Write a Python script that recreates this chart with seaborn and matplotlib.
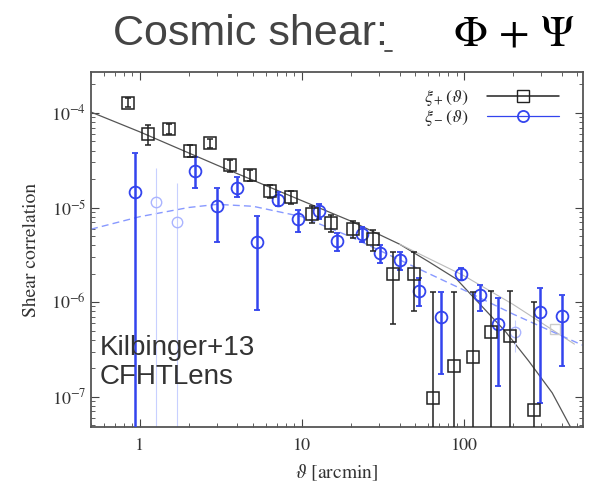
import numpy as np
import pandas as pd
import seaborn as sns
import matplotlib.pyplot as plt
from matplotlib.lines import Line2D
from matplotlib.ticker import FuncFormatter, LogLocator, NullFormatter

xp_theta = [0.84, 1.12, 1.51, 2.04, 2.70, 3.6, 4.8, 6.4, 8.6, 11.5, 15.1, 20.6, 27.4,
            36.5, 49, 64.4, 86.7, 114, 147, 192, 269]
xp_val = [1.27e-4, 6.0e-5, 6.8e-5, 4.0e-5, 4.8e-5, 2.8e-5, 2.2e-5, 1.5e-5, 1.3e-5, 8.6e-6,
          6.9e-6, 6.0e-6, 4.6e-6, 2.0e-6, 2.0e-6, 9.8e-8, 2.1e-7, 2.6e-7, 4.8e-7, 4.4e-7, 7.3e-8]
xp_lo = [1.15e-4, 4.6e-5, 6.0e-5, 3.4e-5, 4.3e-5, 2.4e-5, 1.9e-5, 1.25e-5, 1.1e-5, 6.8e-6,
         5.5e-6, 4.8e-6, 3.5e-6, 5.9e-7, 8.0e-7, 1e-9, 1e-9, 1e-9, 1e-9, 1e-9, 1e-9]
xp_hi = [1.42e-4, 7.5e-5, 7.6e-5, 4.6e-5, 5.3e-5, 3.2e-5, 2.5e-5, 1.75e-5, 1.5e-5, 1.05e-5,
         8.3e-6, 7.2e-6, 5.8e-6, 3.4e-6, 3.4e-6, 1.27e-6, 1.27e-6, 1.27e-6, 1.3e-6, 1.3e-6, 1.0e-6]

# xi_minus measurements
xm_theta = [0.94, 2.19, 2.99, 3.97, 5.27, 7.1, 9.4, 12.7, 16.4, 23.5, 30.3, 40, 52.7,
            72, 95.6, 126, 162, 295, 403]
xm_val = [1.47e-5, 2.46e-5, 1.03e-5, 1.62e-5, 4.3e-6, 1.21e-5, 7.5e-6, 9.1e-6, 4.4e-6,
          5.2e-6, 3.3e-6, 2.8e-6, 1.3e-6, 6.9e-7, 1.97e-6, 1.19e-6, 5.9e-7, 7.9e-7, 7.1e-7]
xm_lo = [1e-9, 1.6e-5, 4.3e-6, 1.3e-5, 8.3e-7, 1.05e-5, 5.5e-6, 7.5e-6, 3.5e-6,
         4.3e-6, 2.6e-6, 2.2e-6, 9e-7, 1.75e-7, 1.7e-6, 8e-7, 1.3e-7, 8.5e-8, 2.1e-7]
xm_hi = [3.8e-5, 3.4e-5, 1.6e-5, 2.1e-5, 8.1e-6, 1.45e-5, 9.5e-6, 1.1e-5, 5.4e-6,
         6.2e-6, 4.0e-6, 3.4e-6, 1.8e-6, 1.27e-6, 2.3e-6, 1.5e-6, 1.1e-6, 1.4e-6, 1.2e-6]

# faint (excluded) xi_minus / xi_plus points
xmf_theta = [1.26, 1.69, 206]
xmf_val = [1.13e-5, 7.1e-6, 4.8e-7]
xmf_lo = [1e-9, 1e-9, 3.0e-7]
xmf_hi = [2.6e-5, 1.8e-5, 6.5e-7]
xpf_theta = [365]
xpf_val = [5.2e-7]

# model curves
mp_theta = [0.5, 1, 3, 10, 20, 40, 60, 90, 130, 180, 250, 350, 430, 480]
mp_val = [1.02e-4, 6.3e-5, 2.8e-5, 1.18e-5, 7.2e-6, 4.1e-6, 2.7e-6, 1.75e-6, 8.9e-7,
          4.9e-7, 2.4e-7, 1.1e-7, 5.7e-8, 4.0e-8]
mm_theta = [0.5, 1, 2, 3, 5, 10, 20, 40, 100, 200, 540]
mm_val = [5.9e-6, 8.0e-6, 1.0e-5, 1.08e-5, 1.03e-5, 8.0e-6, 4.9e-6, 2.8e-6, 1.34e-6,
          7.5e-7, 3.5e-7]
mg_theta = [40, 100, 200, 480]
mg_val = [4.1e-6, 1.9e-6, 9.5e-7, 3.6e-7]

black = "#222222"
blue = "#3344ee"

sns.set_style("ticks")
plt.rcParams["mathtext.fontset"] = "stix"
serif = ["STIXGeneral", "Liberation Serif", "DejaVu Serif"]
sans = ["Liberation Sans", "DejaVu Sans"]

fig = plt.figure(figsize=(5.91, 4.97), dpi=100)
ax = fig.add_axes([0.154, 0.141, 0.832, 0.714])

# model lines
sns.lineplot(x=mp_theta, y=mp_val, ax=ax, color="#555555", lw=0.9, sort=False, estimator=None)
sns.lineplot(x=mg_theta, y=mg_val, ax=ax, color="#bbbbbb", lw=0.8, sort=False, estimator=None)
sns.lineplot(x=mm_theta, y=mm_val, ax=ax, color="#8899ff", lw=1.0, ls=(0, (5, 3)),
             sort=False, estimator=None)

def errs(v, lo, hi):
    v = np.array(v)
    return [v - np.array(lo), np.array(hi) - v]

# faint points
ax.errorbar(xmf_theta, xmf_val, yerr=errs(xmf_val, xmf_lo, xmf_hi), fmt="o", ms=7.5,
            mfc="none", mec="#aab4ff", ecolor="#c8d0ff", elinewidth=0.8, capsize=0)
ax.plot(xpf_theta, xpf_val, "s", ms=7.5, mfc="none", mec="#cccccc")

ax.errorbar(xp_theta, xp_val, yerr=errs(xp_val, xp_lo, xp_hi), fmt="s", ms=8.5,
            mfc="none", mec=black, mew=1.1, ecolor=black, elinewidth=1.1,
            capsize=2.5, zorder=4)
ax.errorbar(xm_theta, xm_val, yerr=errs(xm_val, xm_lo, xm_hi), fmt="o", ms=8.5,
            mfc="none", mec=blue, mew=1.3, ecolor=blue, elinewidth=1.8,
            capsize=2.5, zorder=3)

ax.set_xscale("log")
ax.set_yscale("log")
ax.set_xlim(0.5, 540)
ax.set_ylim(4.8e-8, 2.7e-4)

ax.tick_params(which="both", direction="in", top=True, right=True, colors="#444444",
               labelcolor="#333333", labelsize=13)
ax.tick_params(which="major", length=6)
ax.tick_params(which="minor", length=3)
ax.tick_params(axis="x", pad=8)
ax.xaxis.set_major_formatter(FuncFormatter(lambda v, p: f"{v:g}"))
ax.xaxis.set_minor_formatter(NullFormatter())
ax.yaxis.set_major_locator(LogLocator(base=10, numticks=10))
for lab in ax.get_xticklabels() + ax.get_yticklabels():
    lab.set_family(serif)
for sp in ax.spines.values():
    sp.set_color("#555555")
    sp.set_linewidth(1.3)

ax.set_xlabel(r"$\vartheta$ [arcmin]", family=serif, fontsize=14, color="#333333",
              labelpad=6)
ax.set_ylabel("Shear correlation", family=serif, fontsize=14, color="#333333",
              labelpad=8)

# gnuplot-like legend samples: line with marker in the middle
hp = Line2D([], [], color=black, lw=1.1, marker="s", ms=8, mfc="none", mec=black)
hm = Line2D([], [], color=blue, lw=0.9, marker="o", ms=8, mfc="none", mec=blue, mew=1.3)
ax.legend(handles=[hp, hm], labels=[r"$\xi_+(\vartheta)$", r"$\xi_-(\vartheta)$"],
          loc="upper right", bbox_to_anchor=(0.985, 1.0), frameon=False,
          markerfirst=False, handlelength=4.0, handletextpad=1.0,
          prop={"family": serif, "size": 13}, labelspacing=0.0)

ax.text(0.018, 0.105, "Kilbinger+13\nCFHTLens", transform=ax.transAxes,
        family=sans, fontsize=20, color="#333333",
        ha="left", va="bottom", linespacing=1.15)

# title
fig.text(0.191, 0.909, "Cosmic shear:", family=sans, fontsize=31, color="#444444",
         ha="left", va="baseline")
fig.text(0.973, 0.909, r"$\Phi\,+\,\Psi$", fontsize=32, color="black",
         ha="right", va="baseline")
fig.add_artist(Line2D([0.652, 0.664], [0.897, 0.897], color="#444444", lw=1.3))

fig.savefig("out.png", dpi=100)
